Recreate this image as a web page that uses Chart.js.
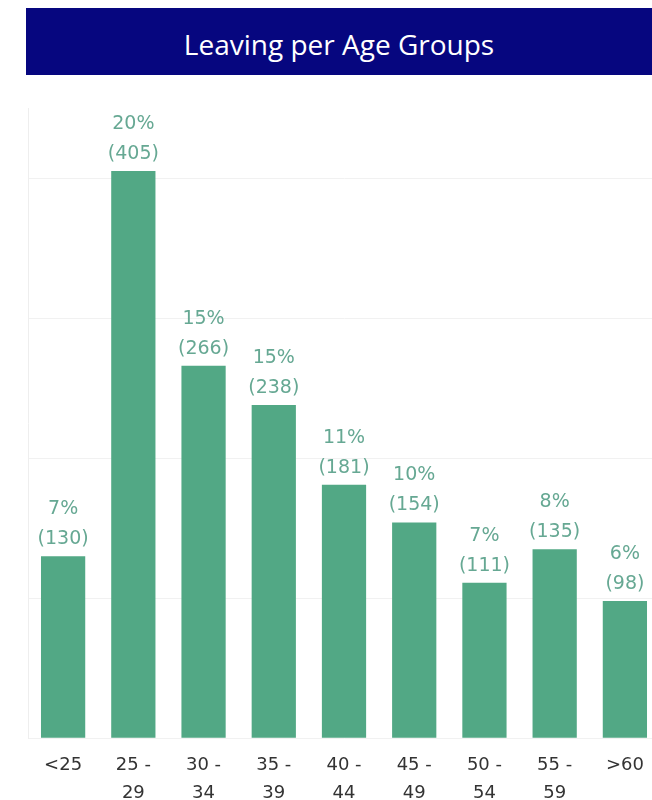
<!DOCTYPE html>
<html>
<head>
<meta charset="utf-8">
<script src="https://cdn.jsdelivr.net/npm/chart.js@4/dist/chart.umd.min.js"></script>
<style>
  html, body { margin: 0; padding: 0; background: #fff; overflow: hidden; }
  #wrap { position: relative; width: 652px; height: 800px; overflow: hidden; }
  #title {
    position: absolute; left: 26px; top: 8px; width: 626px; height: 67px;
    background: #06067f; color: #fff;
    font-family: "Open Sans", sans-serif; font-size: 28px;
    display: flex; align-items: center; justify-content: center;
    padding-top: 4px; box-sizing: border-box;
  }
  #box { position: absolute; left: 0; top: 0; width: 672px; height: 820px; }
</style>
</head>
<body>
<div id="wrap">
  <div id="box"><canvas id="chart"></canvas></div>
  <div id="title">Leaving per Age Groups</div>
</div>
<script>
// Leaving per age group
const ageGroups = [['<25'], ['25 -', '29'], ['30 -', '34'], ['35 -', '39'], ['40 -', '44'],
  ['45 -', '49'], ['50 -', '54'], ['55 -', '59'], ['>60']];
const leavers = [130, 405, 266, 238, 181, 154, 111, 135, 98];
const percents = [7, 20, 15, 15, 11, 10, 7, 8, 6];
const gridTicks = [0, 100, 200, 300, 400];

const labelColor = '#66a893';

// draws "x%" and "(n)" above each bar
const barLabels = {
  id: 'barLabels',
  afterDatasetsDraw(chart) {
    const ctx = chart.ctx;
    const meta = chart.getDatasetMeta(0);
    ctx.save();
    ctx.fillStyle = labelColor;
    ctx.font = '19px "DejaVu Sans"';
    ctx.textAlign = 'center';
    ctx.textBaseline = 'middle';
    meta.data.forEach((bar, i) => {
      ctx.fillText(`(${leavers[i]})`, bar.x, bar.y - 17);
      ctx.fillText(`${percents[i]}%`, bar.x, bar.y - 47);
    });
    ctx.restore();
  }
};

const ctx = document.getElementById('chart');

new Chart(ctx, {
  type: 'bar',
  data: {
    labels: ageGroups,
    datasets: [{
      data: leavers,
      backgroundColor: '#52a885',
      barPercentage: 0.63,
      categoryPercentage: 1
    }]
  },
  options: {
    responsive: true,
    maintainAspectRatio: false,
    animation: false,
    layout: {
      padding: { left: 28, right: 12, top: 108, bottom: 0 }
    },
    plugins: {
      legend: { display: false },
      tooltip: { enabled: false }
    },
    scales: {
      x: {
        grid: { display: false, drawTicks: false },
        border: { display: false },
        ticks: {
          color: '#333',
          padding: 13,
          maxRotation: 0,
          autoSkip: false,
          font: { family: 'DejaVu Sans', size: 18, lineHeight: 1.55 }
        }
      },
      y: {
        min: 0,
        max: 450,
        afterBuildTicks: (axis) => {
          axis.ticks = gridTicks.map(v => ({ value: v }));
        },
        grid: { color: '#f1f1f1', drawTicks: false },
        border: { display: true, color: '#eeeeee' },
        ticks: { display: false }
      }
    }
  },
  plugins: [barLabels]
});
</script>
</body>
</html>
